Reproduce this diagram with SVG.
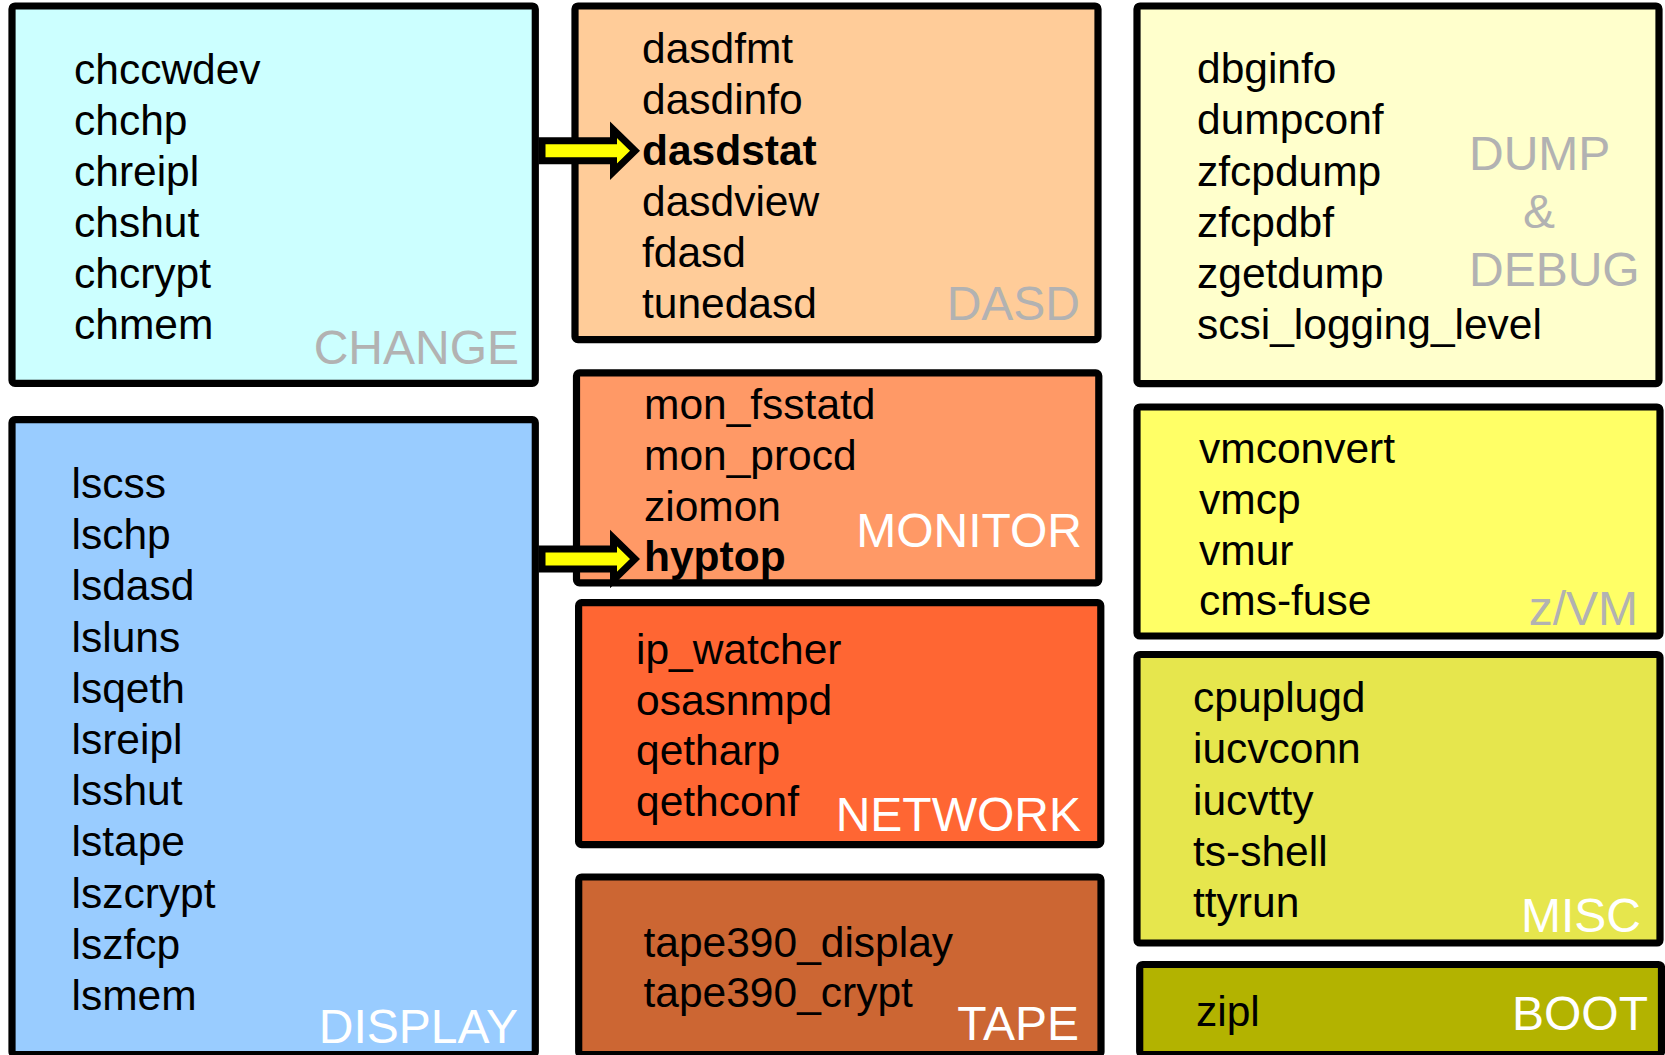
<svg xmlns="http://www.w3.org/2000/svg" width="1665" height="1055" viewBox="0 0 1665 1055">
  <style>
    .box { stroke: #000; stroke-width: 7.2; }
    .item { font-family: "Liberation Sans", Arial, sans-serif; font-size: 42.5px; fill: #000; }
    .bold { font-weight: bold; }
    .cat { font-family: "Liberation Sans", Arial, sans-serif; font-size: 48px; text-anchor: end; }
    .cat.left { text-anchor: start; }
    .cat.mid { text-anchor: middle; }
    .gray { fill: #B2B2B2; }
    .white { fill: #FFFFFF; }
    .arrow { fill: #FFFF00; stroke: #000; stroke-width: 7; stroke-linejoin: miter; }
  </style>
  <rect width="1665" height="1055" fill="#FFFFFF"/>

  <!-- CHANGE -->
  <g id="change">
    <rect class="box" x="12" y="6" width="523.3" height="377.3" rx="3" fill="#CCFFFF"/>
    <text class="item" x="74" y="84">chccwdev</text>
    <text class="item" x="74" y="135">chchp</text>
    <text class="item" x="74" y="186">chreipl</text>
    <text class="item" x="74" y="237">chshut</text>
    <text class="item" x="74" y="288">chcrypt</text>
    <text class="item" x="74" y="339">chmem</text>
    <text class="cat gray" x="519" y="364">CHANGE</text>
  </g>

  <!-- DISPLAY -->
  <g id="display">
    <rect class="box" x="12" y="419.7" width="523.3" height="635" rx="3" fill="#99CCFF"/>
    <text class="item" x="71.5" y="498">lscss</text>
    <text class="item" x="71.5" y="549.2">lschp</text>
    <text class="item" x="71.5" y="600.4">lsdasd</text>
    <text class="item" x="71.5" y="651.6">lsluns</text>
    <text class="item" x="71.5" y="702.8">lsqeth</text>
    <text class="item" x="71.5" y="754">lsreipl</text>
    <text class="item" x="71.5" y="805.2">lsshut</text>
    <text class="item" x="71.5" y="856.4">lstape</text>
    <text class="item" x="71.5" y="907.6">lszcrypt</text>
    <text class="item" x="71.5" y="958.8">lszfcp</text>
    <text class="item" x="71.5" y="1010">lsmem</text>
    <text class="cat white" x="518" y="1043">DISPLAY</text>
  </g>

  <!-- DASD -->
  <g id="dasd">
    <rect class="box" x="575" y="6" width="523" height="333.7" rx="3" fill="#FFCC99"/>
    <text class="item" x="642" y="63">dasdfmt</text>
    <text class="item" x="642" y="114">dasdinfo</text>
    <text class="item bold" x="642" y="165">dasdstat</text>
    <text class="item" x="642" y="216">dasdview</text>
    <text class="item" x="642" y="267">fdasd</text>
    <text class="item" x="642" y="318">tunedasd</text>
    <text class="cat gray" x="1080" y="319.5">DASD</text>
  </g>

  <!-- MONITOR -->
  <g id="monitor">
    <rect class="box" x="576.5" y="372.8" width="522.3" height="210" rx="3" fill="#FF9966"/>
    <text class="item" x="644" y="418.8">mon_fsstatd</text>
    <text class="item" x="644" y="470">mon_procd</text>
    <text class="item" x="644" y="521.2">ziomon</text>
    <text class="item bold" x="644" y="571">hyptop</text>
    <text class="cat white" x="1082" y="547">MONITOR</text>
  </g>

  <!-- NETWORK -->
  <g id="network">
    <rect class="box" x="578.6" y="602.7" width="522.2" height="242" rx="3" fill="#FF6633"/>
    <text class="item" x="636" y="664">ip_watcher</text>
    <text class="item" x="636" y="714.7">osasnmpd</text>
    <text class="item" x="636" y="765.2">qetharp</text>
    <text class="item" x="636" y="815.7">qethconf</text>
    <text class="cat white" x="1081" y="831">NETWORK</text>
  </g>

  <!-- TAPE -->
  <g id="tape">
    <rect class="box" x="578.7" y="877" width="522.3" height="177.7" rx="3" fill="#CC6633"/>
    <text class="item" x="643.5" y="956.5">tape390_display</text>
    <text class="item" x="643.5" y="1006.5">tape390_crypt</text>
    <text class="cat white" x="1079" y="1040">TAPE</text>
  </g>

  <!-- DUMP & DEBUG -->
  <g id="dump-debug">
    <rect class="box" x="1137" y="6" width="522" height="377.7" rx="3" fill="#FFFFCC"/>
    <text class="item" x="1197" y="83">dbginfo</text>
    <text class="item" x="1197" y="134">dumpconf</text>
    <text class="item" x="1197" y="185.5">zfcpdump</text>
    <text class="item" x="1197" y="236.5">zfcpdbf</text>
    <text class="item" x="1197" y="287.5">zgetdump</text>
    <text class="item" x="1197" y="338.5">scsi_logging_level</text>
    <text class="cat gray left" x="1469" y="169.5">DUMP</text>
    <text class="cat gray mid" x="1539" y="228">&amp;</text>
    <text class="cat gray left" x="1469" y="285.5">DEBUG</text>
  </g>

  <!-- z/VM -->
  <g id="zvm">
    <rect class="box" x="1137" y="407" width="523" height="229" rx="3" fill="#FFFF66"/>
    <text class="item" x="1199" y="462.5">vmconvert</text>
    <text class="item" x="1199" y="513.5">vmcp</text>
    <text class="item" x="1199" y="564.5">vmur</text>
    <text class="item" x="1199" y="614.5">cms-fuse</text>
    <text class="cat gray" x="1638" y="624.5">z/VM</text>
  </g>

  <!-- MISC -->
  <g id="misc">
    <rect class="box" x="1137" y="654.5" width="523" height="288.5" rx="3" fill="#E6E64D"/>
    <text class="item" x="1193" y="712">cpuplugd</text>
    <text class="item" x="1193" y="763.2">iucvconn</text>
    <text class="item" x="1193" y="814.5">iucvtty</text>
    <text class="item" x="1193" y="865.5">ts-shell</text>
    <text class="item" x="1193" y="916.5">ttyrun</text>
    <text class="cat white" x="1641" y="931.5">MISC</text>
  </g>

  <!-- BOOT -->
  <g id="boot">
    <rect class="box" x="1139.7" y="964.5" width="521.8" height="90" rx="3" fill="#B3B300"/>
    <text class="item" x="1196" y="1026">zipl</text>
    <text class="cat white" x="1648" y="1030">BOOT</text>
  </g>

  <!-- highlight arrows pointing at the featured tools -->
  <g id="connectors">
    <path class="arrow" d="M542,140.8 H613.5 V129.8 L635,150.8 L613.5,171.8 V160.8 H542 Z"/>
    <path class="arrow" d="M542,549 H613.5 V538 L635,559 L613.5,580 V569 H542 Z"/>
  </g>
</svg>
